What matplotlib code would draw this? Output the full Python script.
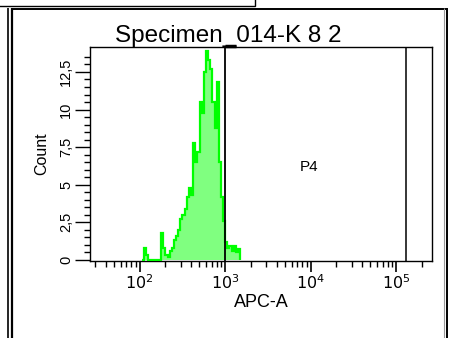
import numpy as np
import matplotlib
matplotlib.use("Agg")
import matplotlib.pyplot as plt
from matplotlib.patches import Rectangle
from matplotlib.ticker import FixedLocator, NullFormatter, FixedFormatter

plt.rcParams['font.family'] = ['Liberation Sans', 'DejaVu Sans']

# ---- data ----
title = "Specimen_014-K 8 2"
x_label = "APC-A"
y_label = "Count"
gate_name = "P4"
gate_lo, gate_hi = 1000.0, 130000.0
log_start = 2.025
log_step = 0.025
counts = [0, 0.8, 0.3, 0, 0, 0, 0, 0, 0, 1.8,
          0.8, 0.3, 0.2, 0.6, 0.8, 1.3, 1.6, 2.0, 2.7, 3.0,
          3.4, 4.2, 4.8, 4.3, 7.8, 6.5, 7.2, 10.5, 9.8, 12.5,
          13.9, 13.3, 12.7, 10.5, 8.8, 11.8, 6.5, 4.2, 2.6, 1.2,
          0.8, 0.9, 0.6, 0.9, 0.5, 0.7]
y_ticks = [0, 2.5, 5, 7.5, 10, 12.5]
y_tick_labels = ["0", "2,5", "5", "7,5", "10", "12,5"]
x_major = [1e2, 1e3, 1e4, 1e5]
x_major_labels = [r"$10^2$", r"$10^3$", r"$10^4$", r"$10^5$"]
x_min, x_max = 26.2144, 262144.0
y_min, y_max = -0.07, 14.16

W, H = 451, 338
fig = plt.figure(figsize=(W / 100, H / 100), dpi=100)
fig.patch.set_facecolor('white')

def fx(x):
    return x / W

def fy(y):
    return 1 - y / H

# overlay in pixel coordinates for frame lines
ov = fig.add_axes([0, 0, 1, 1], zorder=0)
ov.set_xlim(0, W)
ov.set_ylim(H, 0)
ov.axis('off')
ov.add_patch(Rectangle((-5, -10), 260, 16, fill=False, edgecolor='black', lw=1.0,
                       clip_on=True))
frame = [
    ([7.5, 7.5], [8, H], 'black', 1.2),
    ([12, 12], [8, H], 'black', 1.6),
    ([13, 446], [8.5, 8.5], 'black', 1.4),
    ([444, 444], [8, H], '#999999', 0.8),
    ([447, 447], [8, H], 'black', 1.4),
]
for xs, ys, c, lw in frame:
    ov.plot(xs, ys, color=c, lw=lw, solid_capstyle='butt', clip_on=False)

ax = fig.add_axes([fx(90), fy(261), (432 - 90) / W, (261 - 47) / H], zorder=2)
ax.set_xscale('log')
ax.set_xlim(x_min, x_max)
ax.set_ylim(y_min, y_max)

edges = 10 ** (log_start + log_step * np.arange(len(counts) + 1))
ax.stairs(counts, edges, baseline=0, fill=True, color='#80FF80', zorder=2)
ax.stairs(counts, edges, baseline=0, fill=False, color='#00FF00', lw=1.6, zorder=3)

# gate
ax.axvline(gate_lo, color='black', lw=1.3, zorder=4)
ax.axvline(gate_hi, color='black', lw=1.1, zorder=4)
ax.plot([gate_lo, gate_lo * 1.35], [y_max + 0.07, y_max + 0.07], color='black', lw=2.5,
        clip_on=False, zorder=5, solid_capstyle='butt')
ax.text(10 ** 3.98, 6.2, gate_name, fontsize=11, ha='center', va='center')

for s in ax.spines.values():
    s.set_linewidth(1.0)
    s.set_color('black')

# ticks
ax.xaxis.set_major_locator(FixedLocator(x_major))
ax.xaxis.set_major_formatter(FixedFormatter(x_major_labels))
minors = []
for d in [10, 100, 1000, 10000, 100000]:
    for m in range(2, 10):
        v = m * d
        if x_min < v < x_max:
            minors.append(v)
ax.xaxis.set_minor_locator(FixedLocator(minors))
ax.xaxis.set_minor_formatter(NullFormatter())
ax.tick_params(axis='x', which='major', direction='out', length=8, width=1.2,
               labelsize=11.5, pad=1)
ax.tick_params(axis='x', which='minor', direction='out', length=4.5, width=1.0)

ax.yaxis.set_major_locator(FixedLocator(y_ticks))
ax.yaxis.set_major_formatter(FixedFormatter(y_tick_labels))
ax.yaxis.set_minor_locator(FixedLocator(np.arange(0.5, 14.0, 0.5)))
ax.tick_params(axis='y', which='major', direction='out', length=11, width=1.0,
               labelsize=10.5, pad=1)
ax.tick_params(axis='y', which='minor', direction='out', length=4, width=1.0)
for lbl in ax.get_yticklabels():
    lbl.set_rotation(90)
    lbl.set_va('center')

ax.set_xlabel(x_label, fontsize=13, labelpad=1)
ax.set_ylabel(y_label, fontsize=11.5, labelpad=7)
fig.text(fx(228), fy(42), title, fontsize=17.5, ha='center', va='baseline')

fig.savefig("out.png", dpi=100, facecolor='white')
